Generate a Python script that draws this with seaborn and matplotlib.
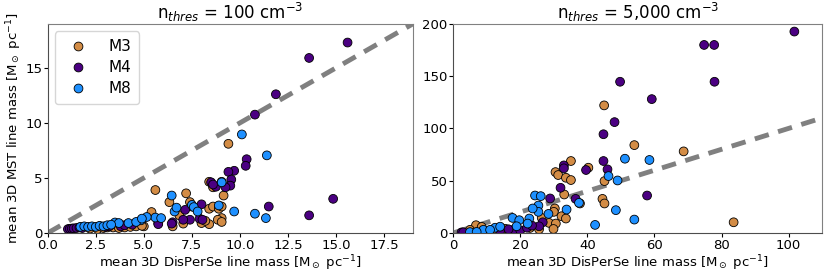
import numpy as np
import pandas as pd
import matplotlib
matplotlib.use("Agg")
import matplotlib.pyplot as plt
import seaborn as sns

sns.set_style("ticks")
plt.rcParams['font.family'] = ['DejaVu Sans']
plt.rcParams['text.color'] = 'black'
plt.rcParams['axes.labelcolor'] = 'black'
plt.rcParams['xtick.color'] = 'black'
plt.rcParams['ytick.color'] = 'black'

# ---- Left panel (n_thres = 100 cm^-3) ----
l_m3_x = [9.4, 5.6, 7.2, 6.33, 7.4, 8.4, 8.6, 9.05, 9.15, 8.4, 8.6, 8.9, 9.05, 9.05, 8.85, 9.05, 8.4, 8.0,
          6.85, 7.05, 6.5, 5.4, 5.75, 5.0, 2.2, 2.6, 2.9, 3.1, 3.4, 3.7, 4.0, 4.3, 4.6, 4.9, 7.5, 8.2]
l_m3_y = [8.1, 3.9, 3.6, 2.8, 2.8, 4.65, 4.15, 4.65, 3.4, 2.2, 2.4, 2.2, 2.4, 1.35, 1.2, 1.0, 0.8, 0.9,
          1.6, 0.85, 0.6, 1.9, 0.9, 0.6, 0.4, 0.35, 0.45, 0.5, 0.5, 0.45, 0.5, 0.55, 0.6, 0.65, 2.4, 1.1]
l_m4_x = [15.6, 13.6, 11.87, 10.78, 14.85, 13.6, 11.5, 10.35, 10.3, 9.7, 9.4, 9.55, 9.5, 9.25, 8.75, 8.5,
          8.6, 8.0, 7.9, 7.4, 7.05, 7.15, 6.5, 6.45, 8.05, 5.75, 1.05, 1.15, 1.25, 1.35, 1.5, 1.65, 1.8,
          3.0, 3.2, 3.8, 4.0, 4.4]
l_m4_y = [17.3, 15.9, 12.6, 10.75, 3.1, 1.6, 2.4, 6.7, 6.1, 5.65, 5.55, 4.85, 4.3, 4.15, 4.2, 4.6,
          4.4, 2.6, 1.3, 1.2, 1.2, 2.1, 0.97, 0.85, 1.2, 0.8, 0.35, 0.38, 0.4, 0.42, 0.45, 0.5, 0.45,
          0.55, 0.6, 0.6, 0.7, 0.75]
l_m8_x = [10.1, 11.4, 11.35, 10.78, 9.7, 9.05, 8.9, 6.45, 6.6, 6.7, 7.5, 7.6, 7.8, 5.6, 5.9, 5.15, 4.85,
          4.2, 3.5, 3.7, 1.7, 1.9, 2.1, 2.3, 2.5, 2.7, 2.9, 3.1, 3.3, 4.6, 4.9]
l_m8_y = [8.95, 7.05, 1.35, 1.75, 1.95, 4.6, 2.5, 3.4, 1.95, 2.3, 2.55, 2.35, 1.95, 1.4, 1.35, 1.45, 1.15,
          0.9, 0.95, 0.9, 0.55, 0.6, 0.55, 0.6, 0.55, 0.65, 0.6, 0.7, 0.75, 1.0, 1.3]

# ---- Right panel (n_thres = 5,000 cm^-3) ----
r_m3_x = [45.0, 54.0, 68.7, 83.6, 35.1, 30.5, 31.3, 33.6, 35.1, 40.3, 45.1, 33.1, 37.8, 44.5, 45.1,
          30.3, 30.0, 32.3, 33.6, 28.6, 30.6, 29.9, 26.4, 6.8, 8.5, 5.0, 22.9, 12.0, 15.5, 25.6]
r_m3_y = [122, 84, 78, 10.2, 68.8, 58.2, 55.4, 52.8, 50.6, 62.4, 49.6, 36.8, 28.2, 32.6, 28.2,
          23.4, 20.2, 16.0, 13.8, 9.6, 9.0, 3.8, 14.4, 7.4, 5.8, 3.0, 4.8, 3.5, 4.0, 3.5]
r_m4_x = [101.7, 74.8, 77.8, 77.9, 49.75, 59.2, 48.1, 44.8, 44.8, 46.0, 39.6, 33.0, 33.0, 32.0, 28.9,
          36.5, 57.8, 26.7, 25.6, 18.0, 20.0, 22.0, 2.5, 3.0, 14.0, 16.5, 23.5]
r_m4_y = [192.6, 179.8, 179.8, 144.6, 144.6, 128, 106, 94.4, 68.8, 60.8, 60.2, 64.6, 61.8, 43.2, 33.0,
          32.6, 35.8, 10.2, 6.4, 3.0, 2.5, 5.0, 0.5, 0.6, 2.0, 3.5, 7.0]
r_m8_x = [51.2, 58.5, 46.3, 49.0, 24.4, 26.1, 25.4, 25.4, 23.7, 33.8, 37.5, 28.4, 48.5, 42.3, 54.0,
          17.7, 19.7, 22.7, 18.9, 22.2, 9.0, 12.5, 14.0, 5.0, 7.0, 11.0]
r_m8_y = [71, 69.8, 54.4, 50.2, 35.8, 35.2, 26.2, 20.2, 23.4, 22.4, 28.8, 18.2, 21.8, 7.7, 12.8,
          14.4, 12.2, 13.8, 6.4, 9.0, 3.0, 5.0, 6.0, 0.8, 1.0, 3.0]

series = ["M3", "M4", "M8"]
palette = {"M3": "#D38C45", "M4": "#4B0082", "M8": "#1E90FF"}


def make_df(m3x, m3y, m4x, m4y, m8x, m8y):
    frames = []
    for name, xs, ys in (("M3", m3x, m3y), ("M4", m4x, m4y), ("M8", m8x, m8y)):
        frames.append(pd.DataFrame({"x": xs, "y": ys, "sim": name}))
    return pd.concat(frames, ignore_index=True)


df_l = make_df(l_m3_x, l_m3_y, l_m4_x, l_m4_y, l_m8_x, l_m8_y)
df_r = make_df(r_m3_x, r_m3_y, r_m4_x, r_m4_y, r_m8_x, r_m8_y)

fig = plt.figure(figsize=(8.3, 2.77), dpi=100)
ax1 = fig.add_axes([0.0575, 0.159, 0.440, 0.755])
ax2 = fig.add_axes([0.546, 0.159, 0.4446, 0.755])

fs_lab = 9.5
fs_tick = 9.5
for ax, df, lim, title, legend in ((ax1, df_l, (19, 19), r"n$_{thres}$ = 100 cm$^{-3}$", True),
                                   (ax2, df_r, (110, 200), r"n$_{thres}$ = 5,000 cm$^{-3}$", False)):
    m = max(lim)
    ax.plot([0, m], [0, m], ls="--", color="grey", lw=3.5, zorder=1, dashes=(3, 2))
    sns.scatterplot(data=df, x="x", y="y", hue="sim", hue_order=series, palette=palette,
                    s=40, edgecolor="black", linewidth=0.6, ax=ax, legend=legend, zorder=3)
    ax.set_xlim(0, lim[0])
    ax.set_ylim(0, lim[1])
    ax.set_title(title, fontsize=12, pad=3)
    ax.set_xlabel(r"mean 3D DisPerSe line mass [M$_\odot$ pc$^{-1}$]", fontsize=fs_lab, labelpad=1.5)
    ax.set_ylabel("")
    ax.tick_params(labelsize=fs_tick, length=3, pad=1)
    for sp in ax.spines.values():
        sp.set_visible(True)
        sp.set_color("0.5")
    ax.spines["left"].set_color("0.3")
    ax.spines["bottom"].set_color("0.3")

ax1.set_xticks([0, 2.5, 5, 7.5, 10, 12.5, 15, 17.5])
ax1.set_yticks([0, 5, 10, 15])
ax2.set_xticks([0, 20, 40, 60, 80, 100])
ax2.set_yticks([0, 50, 100, 150, 200])
ax1.set_ylabel(r"mean 3D MST line mass [M$_\odot$ pc$^{-1}$]", fontsize=fs_lab)
ax1.yaxis.set_label_coords(-0.066, 0.5)

leg = ax1.legend(loc="upper left", fontsize=11, handletextpad=1.0, borderpad=0.5, labelspacing=0.4)
for h in leg.legend_handles:
    try:
        h.set_markeredgecolor("black")
    except AttributeError:
        h.set_edgecolor("black")

fig.savefig("out.png", dpi=100)
